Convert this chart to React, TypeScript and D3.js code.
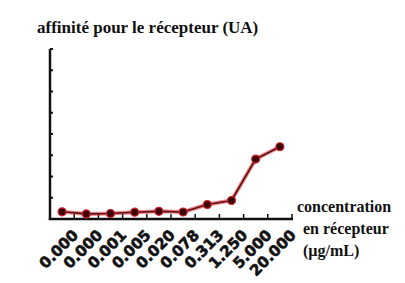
import React from "react";
import * as d3 from "d3";

const categories = ["0.000", "0.000", "0.001", "0.005", "0.020", "0.078", "0.313", "1.250", "5.000", "20.000"];
const values = [0.34, 0.24, 0.26, 0.32, 0.36, 0.33, 0.68, 0.87, 2.82, 3.4];
const yTicks = [0, 1, 2, 3, 4, 5, 6, 7, 8];
const title = "affinité pour le récepteur (UA)";
const xTitleLines = ["concentration", "en récepteur", "(µg/mL)"];

export default function App() {
  const W = 405, H = 283;
  const x = d3.scaleBand<number>().domain(categories.map((_, i) => i)).range([50, 292]).padding(0);
  const y = d3.scaleLinear().domain([0, 8]).range([219, 49]);
  const bw = x.bandwidth();
  const cx = (i: number) => (x(i) as number) + bw / 2;
  const line = d3.line<number>().x((_, i) => cx(i)).y((d) => y(d));
  const path = line(values) || "";
  return (
    <svg width={W} height={H} style={{ position: "absolute", left: 0, top: 0, background: "#fff" }}>
      <text x={37} y={33} fontFamily="'Liberation Serif', 'Times New Roman', serif" fontWeight="bold" fontSize={17} fill="#111">
        {title}
      </text>
      {/* axes */}
      <line x1={50} x2={50} y1={49} y2={220} stroke="#111" strokeWidth={2.5} />
      <line x1={48.8} x2={293} y1={219} y2={219} stroke="#111" strokeWidth={2.5} />
      {yTicks.map((t) => (
        <line key={"yt" + t} x1={50} x2={53} y1={y(t)} y2={y(t)} stroke="#111" strokeWidth={2} />
      ))}
      {categories.map((_, i) => (
        <line key={"xt" + i} x1={(x(i) as number) + bw} x2={(x(i) as number) + bw} y1={219} y2={214} stroke="#111" strokeWidth={1.5} />
      ))}
      {/* series */}
      <path d={path} fill="none" stroke="#e0202a" strokeOpacity={0.55} strokeWidth={4} />
      <path d={path} fill="none" stroke="#5a0c10" strokeWidth={1.6} />
      {values.map((v, i) => (
        <circle key={"p" + i} cx={cx(i)} cy={y(v)} r={4} fill="#3a070a" stroke="#d8202a" strokeWidth={1.2} />
      ))}
      {/* tick labels */}
      {categories.map((c, i) => (
        <text
          key={"xl" + i}
          transform={`translate(${cx(i) + 17},${236}) rotate(-45)`}
          textAnchor="end"
          fontFamily="'DejaVu Sans', sans-serif"
          fontWeight="bold"
          fontSize={15}
          fill="#111"
          stroke="#111"
          strokeWidth={0.6}
        >
          {c}
        </text>
      ))}
      {xTitleLines.map((t, i) => (
        <text
          key={"xt2" + i}
          x={i === 0 ? 297 : 303}
          y={212 + i * 22}
          fontFamily="'Liberation Serif', 'Times New Roman', serif"
          fontWeight="bold"
          fontSize={16}
          fill="#111"
        >
          {t}
        </text>
      ))}
    </svg>
  );
}
